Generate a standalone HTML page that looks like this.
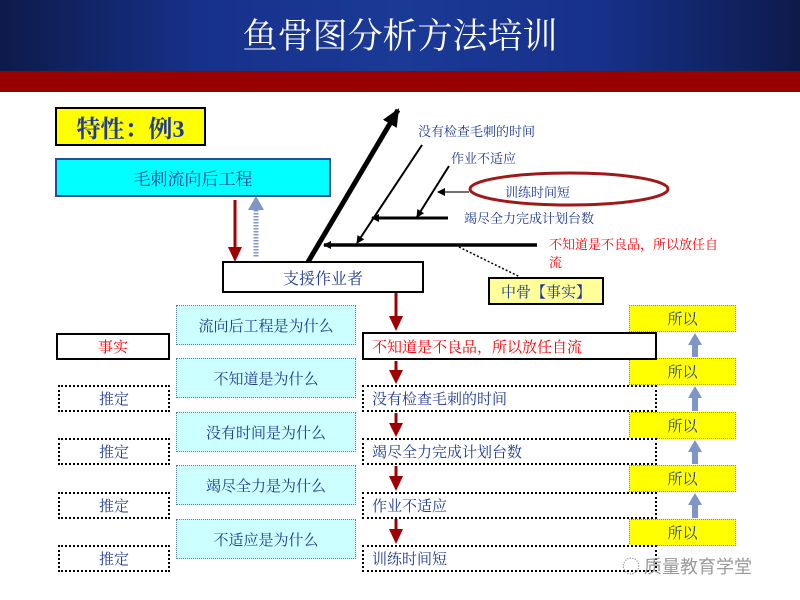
<!DOCTYPE html>
<html><head><meta charset="utf-8"><style>
body{margin:0;width:800px;height:600px;position:relative;background:#fff;overflow:hidden;font-family:"Liberation Serif","Noto Serif CJK SC","Noto Sans CJK SC",serif;}
.a{position:absolute;box-sizing:border-box;display:flex;align-items:center;justify-content:center;white-space:nowrap}
.t{position:absolute;white-space:nowrap}
.cy{background:#ccffff;border:1px dotted #5a78b0;color:#1f3a93;font-size:15px}
.lf{border:2px dotted #000;color:#1f3a93;font-size:15px;background:#fff}
.rt{border:2px dotted #000;color:#1f3a93;font-size:15px;justify-content:flex-start;padding-left:8px;background:#fff}
.ye{background:#ffff00;border:1px dotted #888;color:#1f3a93;font-size:15px}
</style></head><body>
<div style="position:absolute;left:0;top:0;width:800px;height:71px;background:linear-gradient(90deg,#0d1a4a 0%,#17318a 25%,#1a3a96 50%,#17318a 75%,#0d1a4a 100%)"></div>
<div style="position:absolute;left:0;top:71px;width:800px;height:21px;background:#990000"></div>
<div class="t" style="left:0;width:800px;top:16px;text-align:center;color:#fff;font-size:35px;line-height:42px">鱼骨图分析方法培训</div>

<div class="a" style="left:55px;top:107px;width:151px;height:39px;background:#ffff00;border:2px solid #000;color:#1f3a93;font-size:24px;font-weight:bold">特性：例3</div>
<div class="a" style="left:55px;top:158px;width:276px;height:39px;background:#00ffff;border:2px solid #2a4aa0;color:#1f3a93;font-size:17px">毛刺流向后工程</div>
<div class="a" style="left:222px;top:261px;width:202px;height:32px;background:#fff;border:2px solid #000;color:#1f3a93;font-size:16px">支援作业者</div>
<div class="a" style="left:488px;top:277px;width:116px;height:28px;background:#ffff99;border:2px solid #000;color:#1f3a93;font-size:15px">中骨【事实】</div>

<svg width="800" height="600" style="position:absolute;left:0;top:0">
<defs>
<marker id="bk" markerWidth="8" markerHeight="8" refX="7" refY="4" orient="auto" markerUnits="userSpaceOnUse"><path d="M0,0L8,4L0,8z" fill="#000"/></marker>
<marker id="bk2" markerWidth="20" markerHeight="20" refX="16" refY="10" orient="auto" markerUnits="userSpaceOnUse"><path d="M0,2L18,10L0,18z" fill="#000"/></marker>
</defs>
<line x1="308" y1="262" x2="398" y2="110" stroke="#000" stroke-width="5" marker-end="url(#bk2)"/>
<line x1="422" y1="145" x2="357" y2="243" stroke="#000" stroke-width="2" marker-end="url(#bk)"/>
<line x1="449" y1="166" x2="417" y2="217" stroke="#000" stroke-width="2" marker-end="url(#bk)"/>
<line x1="448" y1="218" x2="372" y2="218" stroke="#000" stroke-width="3" marker-end="url(#bk)"/>
<line x1="537" y1="245" x2="324" y2="245" stroke="#000" stroke-width="3.5" marker-end="url(#bk)"/>
<line x1="469" y1="192" x2="438" y2="192" stroke="#444" stroke-width="1.5" marker-end="url(#bk)"/>
<ellipse cx="569" cy="189" rx="99" ry="16" fill="none" stroke="#a01818" stroke-width="3"/>
<polyline points="459,247 520,277" fill="none" stroke="#000" stroke-width="1.5" stroke-dasharray="2,2"/>
<!-- left arrows -->
<line x1="235" y1="200" x2="235" y2="248" stroke="#a00000" stroke-width="3"/>
<path d="M228,247L242,247L235,262z" fill="#a00000"/>
<line x1="256" y1="210" x2="256" y2="258" stroke="#7f95c8" stroke-width="5" stroke-dasharray="1.5,1.5"/>
<path d="M248,210L264,210L256,196z" fill="#7f95c8"/>
<!-- red down arrows -->
<g fill="#a00000" stroke="#a00000">
<line x1="396" y1="293" x2="396" y2="318" stroke-width="3"/><path d="M389,316L403,316L396,331z" stroke="none"/>
<line x1="396" y1="361" x2="396" y2="372" stroke-width="3"/><path d="M389,370L403,370L396,384z" stroke="none"/>
<line x1="396" y1="413" x2="396" y2="425" stroke-width="3"/><path d="M389,423L403,423L396,437z" stroke="none"/>
<line x1="396" y1="466" x2="396" y2="478" stroke-width="3"/><path d="M389,476L403,476L396,491z" stroke="none"/>
<line x1="396" y1="519" x2="396" y2="531" stroke-width="3"/><path d="M389,529L403,529L396,544z" stroke="none"/>
</g>
<!-- blue up arrows -->
<g fill="#7f95c8">
<path d="M688,345L702,345L695,333z"/><rect x="692" y="345" width="6" height="12"/>
<path d="M688,398L702,398L695,386z"/><rect x="692" y="398" width="6" height="13"/>
<path d="M688,452L702,452L695,440z"/><rect x="692" y="452" width="6" height="12"/>
<path d="M688,505L702,505L695,493z"/><rect x="692" y="505" width="6" height="13"/>
</g>
</svg>

<div class="t" style="left:418px;top:121px;color:#1f3a93;font-size:13px">没有检查毛刺的时间</div>
<div class="t" style="left:451px;top:148px;color:#1f3a93;font-size:13px">作业不适应</div>
<div class="t" style="left:505px;top:182px;color:#1f3a93;font-size:13px">训练时间短</div>
<div class="t" style="left:464px;top:208px;color:#1f3a93;font-size:13px">竭尽全力完成计划台数</div>
<div class="t" style="left:549px;top:236px;color:#ff0000;font-size:13px;line-height:18px">不知道是不良品，所以放任自<br>流</div>

<div class="a cy" style="left:176px;top:305px;width:180px;height:40px">流向后工程是为什么</div>
<div class="a cy" style="left:176px;top:358px;width:180px;height:40px">不知道是为什么</div>
<div class="a cy" style="left:176px;top:412px;width:180px;height:40px">没有时间是为什么</div>
<div class="a cy" style="left:176px;top:465px;width:180px;height:40px">竭尽全力是为什么</div>
<div class="a cy" style="left:176px;top:519px;width:180px;height:40px">不适应是为什么</div>

<div class="a" style="left:56px;top:333px;width:114px;height:27px;border:2px solid #000;color:#ff0000;font-size:15px">事实</div>
<div class="a lf" style="left:58px;top:385px;width:112px;height:27px">推定</div>
<div class="a lf" style="left:58px;top:438px;width:112px;height:27px">推定</div>
<div class="a lf" style="left:58px;top:492px;width:112px;height:27px">推定</div>
<div class="a lf" style="left:58px;top:545px;width:112px;height:27px">推定</div>

<div class="a ye" style="left:629px;top:305px;width:107px;height:27px">所以</div>
<div class="a ye" style="left:629px;top:358px;width:107px;height:27px">所以</div>
<div class="a ye" style="left:629px;top:412px;width:107px;height:27px">所以</div>
<div class="a ye" style="left:629px;top:465px;width:107px;height:27px">所以</div>
<div class="a ye" style="left:629px;top:519px;width:107px;height:27px">所以</div>

<div class="a" style="left:362px;top:332px;width:295px;height:28px;border:2px solid #000;color:#ff0000;font-size:15px;justify-content:flex-start;padding-left:8px;background:#fff">不知道是不良品，所以放任自流</div>
<div class="a rt" style="left:362px;top:385px;width:295px;height:27px">没有检查毛刺的时间</div>
<div class="a rt" style="left:362px;top:438px;width:295px;height:27px">竭尽全力完成计划台数</div>
<div class="a rt" style="left:362px;top:492px;width:295px;height:27px">作业不适应</div>
<div class="a rt" style="left:362px;top:545px;width:295px;height:27px">训练时间短</div>

<div class="t" style="left:622px;top:553px;color:#999;font-size:18px;font-family:'Noto Sans CJK SC',sans-serif">◌ 质量教育学堂</div>
</body></html>
